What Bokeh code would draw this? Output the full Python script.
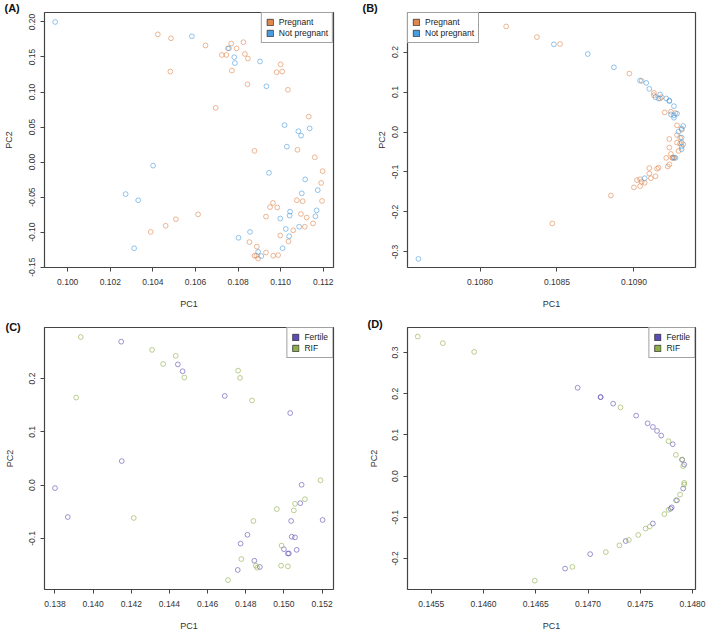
from bokeh.plotting import figure
from bokeh.layouts import gridplot
from bokeh.models import Range1d, FixedTicker, Title, Legend, LegendItem
from bokeh.embed import file_html
from bokeh.resources import INLINE

# ---------------- data ----------------
A_preg_x = [0.10423,0.10485,0.10482,0.10647,0.10724,0.10745,0.10752,0.10768,0.10793,0.10825,0.10832,0.10846,0.10771,0.10844,0.10695,0.10981,0.11000,0.11007,0.11034,0.11132,0.10877,0.11079,0.11160,0.11197,0.11190,0.11194,0.11076,0.11103,0.11095,0.11122,0.11113,0.11152,0.11059,0.11037,0.10998,0.10964,0.10950,0.10984,0.10931,0.10931,0.10965,0.10988,0.10853,0.10888,0.10877,0.10886,0.10894,0.10612,0.10508,0.10460,0.10390]
A_preg_y = [0.1823,0.1767,0.1292,0.1664,0.1529,0.1529,0.1623,0.1692,0.1623,0.1711,0.1543,0.1478,0.1306,0.1110,0.0774,0.1282,0.1394,0.1292,0.1031,0.0649,0.0160,0.0175,0.0068,-0.0130,-0.0298,-0.0555,-0.0545,-0.0559,-0.0741,-0.0792,-0.0923,-0.0876,-0.0974,-0.1132,-0.1048,-0.0583,-0.0643,-0.0648,-0.0778,-0.1291,-0.1337,-0.1328,-0.1142,-0.1207,-0.1337,-0.1337,-0.1379,-0.0746,-0.0816,-0.0909,-0.0997]
A_not_x = [0.09941,0.10583,0.10757,0.10782,0.10785,0.10903,0.10933,0.11018,0.11083,0.11096,0.11136,0.11029,0.10401,0.10272,0.10331,0.10312,0.10945,0.11115,0.11099,0.11174,0.11169,0.11163,0.11044,0.11042,0.10998,0.11024,0.11087,0.11040,0.11009,0.10856,0.10802,0.10894,0.10909]
A_not_y = [0.2000,0.1795,0.1623,0.1497,0.1413,0.1436,0.1082,0.0527,0.0439,0.0378,0.0481,0.0220,-0.0051,-0.0457,-0.0545,-0.1230,-0.0154,-0.0247,-0.0447,-0.0401,-0.0690,-0.0774,-0.0708,-0.0764,-0.0806,-0.0955,-0.0923,-0.1058,-0.1230,-0.0997,-0.1081,-0.1282,-0.1342]

B_preg_x = [0.10797,0.10817,0.10837,0.10852,0.10897,0.10905,0.10913,0.10913,0.10917,0.10918,0.10920,0.10924,0.10927,0.10928,0.10931,0.10928,0.10923,0.10930,0.10928,0.10930,0.10932,0.10929,0.10923,0.10924,0.10921,0.10923,0.10922,0.10910,0.10915,0.10916,0.10910,0.10914,0.10911,0.10902,0.10904,0.10905,0.10907,0.10904,0.10900,0.10885,0.10847,0.10925,0.10926,0.10925]
B_preg_y = [0.2747,0.2639,0.2374,0.2199,0.1461,0.1278,0.0979,0.0921,0.0838,0.0871,0.0489,0.0506,0.0473,0.0166,0.0058,-0.0075,-0.0175,-0.0141,-0.0266,-0.0291,-0.0307,-0.0473,-0.0390,-0.0549,-0.0647,-0.0811,-0.0861,-0.0902,-0.0918,-0.0893,-0.1041,-0.1107,-0.1156,-0.1205,-0.1180,-0.1246,-0.1271,-0.1353,-0.1385,-0.1590,-0.2287,-0.0640,-0.0645,-0.0650]
B_not_x = [0.10848,0.10870,0.10887,0.10904,0.10908,0.10910,0.10914,0.10917,0.10916,0.10921,0.10923,0.10923,0.10926,0.10924,0.10926,0.10928,0.10926,0.10932,0.10931,0.10929,0.10931,0.10931,0.10931,0.10931,0.10760,0.10907,0.10927,0.10926]
B_not_y = [0.2191,0.1950,0.1618,0.1286,0.1228,0.1079,0.0871,0.0938,0.0838,0.0838,0.0772,0.0788,0.0647,0.0440,0.0357,0.0456,0.0415,0.0149,0.0083,0.0008,-0.0141,-0.0266,-0.0365,-0.0432,-0.3173,-0.1156,-0.0647,-0.0640]

C_fer_x = [0.14147,0.14150,0.14444,0.14469,0.14690,0.15033,0.13800,0.13867,0.15093,0.15086,0.15203,0.15038,0.14809,0.14773,0.15041,0.15058,0.15000,0.15067,0.15021,0.15026,0.14845,0.14758,0.14874]
C_fer_y = [0.2691,0.0451,0.2265,0.2136,0.1673,0.1352,-0.0056,-0.0599,0.0006,-0.0339,-0.0654,-0.0673,-0.0932,-0.1098,-0.0969,-0.0981,-0.1203,-0.1215,-0.1283,-0.1283,-0.1419,-0.1592,-0.1536]
C_rif_x = [0.13935,0.13911,0.14309,0.14433,0.14367,0.14478,0.14760,0.14770,0.14833,0.15192,0.14213,0.15110,0.15058,0.15052,0.14963,0.14840,0.14988,0.14777,0.14853,0.14860,0.14985,0.15021,0.14707]
C_rif_y = [0.2778,0.1642,0.2537,0.2426,0.2271,0.2019,0.2148,0.2012,0.1587,0.0090,-0.0617,-0.0265,-0.0352,-0.0475,-0.0450,-0.0673,-0.1135,-0.1388,-0.1512,-0.1549,-0.1512,-0.1524,-0.1783]

D_fer_x = [0.14690,0.14712,0.14712,0.14724,0.14746,0.14757,0.14762,0.14766,0.14770,0.14781,0.14792,0.14790,0.14791,0.14785,0.14780,0.14779,0.14762,0.14736,0.14702,0.14678]
D_fer_y = [0.2145,0.1919,0.1915,0.1758,0.1468,0.1282,0.1193,0.1097,0.0984,0.0774,0.0282,0.0395,-0.0302,-0.0588,-0.0759,-0.0792,-0.1151,-0.1575,-0.1893,-0.2244]
D_rif_x = [0.14537,0.14561,0.14591,0.14731,0.14777,0.14784,0.14790,0.14791,0.14792,0.14792,0.14788,0.14784,0.14777,0.14773,0.14759,0.14755,0.14748,0.14739,0.14730,0.14717,0.14685,0.14649]
D_rif_y = [0.3387,0.3226,0.3016,0.1669,0.0847,0.0516,0.0403,0.0242,-0.0163,-0.0204,-0.0449,-0.0588,-0.0816,-0.0922,-0.1224,-0.1273,-0.1428,-0.1550,-0.1681,-0.1844,-0.2203,-0.2538]

A_xticks = [0.100, 0.102, 0.104, 0.106, 0.108, 0.110, 0.112]
A_xlabels = ["0.100", "0.102", "0.104", "0.106", "0.108", "0.110", "0.112"]
A_yticks = [-0.15, -0.10, -0.05, 0.00, 0.05, 0.10, 0.15, 0.20]
A_ylabels = ["-0.15", "-0.10", "-0.05", "0.00", "0.05", "0.10", "0.15", "0.20"]
B_xticks = [0.1080, 0.1085, 0.1090]
B_xlabels = ["0.1080", "0.1085", "0.1090"]
B_yticks = [-0.3, -0.2, -0.1, 0.0, 0.1, 0.2]
B_ylabels = ["-0.3", "-0.2", "-0.1", "0.0", "0.1", "0.2"]
C_xticks = [0.138, 0.140, 0.142, 0.144, 0.146, 0.148, 0.150, 0.152]
C_xlabels = ["0.138", "0.140", "0.142", "0.144", "0.146", "0.148", "0.150", "0.152"]
C_yticks = [-0.1, 0.0, 0.1, 0.2]
C_ylabels = ["-0.1", "0.0", "0.1", "0.2"]
D_xticks = [0.1455, 0.1460, 0.1465, 0.1470, 0.1475, 0.1480]
D_xlabels = ["0.1455", "0.1460", "0.1465", "0.1470", "0.1475", "0.1480"]
D_yticks = [-0.2, -0.1, 0.0, 0.1, 0.2, 0.3]
D_ylabels = ["-0.2", "-0.1", "0.0", "0.1", "0.2", "0.3"]

preg_names = ["Pregnant", "Not pregnant"]
fert_names = ["Fertile", "RIF"]
preg_colors = ["#E0874E", "#4B9CDF"]
fert_colors = ["#5B4EB3", "#8DAE4A"]

FONT = "Liberation Sans"
NAN = float("nan")


def panel(tag, xr, yr, xt, xl, yt, yl, series, names, colors, legend_loc,
          w, h, bl, br, bt, bb, ylab_standoff, tag_offset, tag_standoff):
    p = figure(width=w, height=h, output_backend="svg", toolbar_location=None,
               x_range=Range1d(*xr), y_range=Range1d(*yr))
    p.min_border_left = bl
    p.min_border_right = br
    p.min_border_top = bt
    p.min_border_bottom = bb
    p.grid.visible = False
    p.outline_line_color = "#444444"
    p.outline_line_width = 1.2
    p.background_fill_color = "white"
    p.border_fill_color = "white"

    p.add_layout(Title(text=tag, align="left", offset=tag_offset,
                       standoff=tag_standoff,
                       text_font=FONT, text_font_size="11px",
                       text_font_style="bold", text_color="#111111"), "above")

    for ax, ticks, labels in ((p.xaxis[0], xt, xl), (p.yaxis[0], yt, yl)):
        ax.ticker = FixedTicker(ticks=ticks)
        ax.major_label_overrides = {t: s for t, s in zip(ticks, labels)}
        ax.axis_line_color = None
        ax.major_tick_line_color = "#444444"
        ax.major_tick_in = 0
        ax.major_tick_out = 4
        ax.minor_tick_line_color = None
        ax.major_label_text_font = FONT
        ax.major_label_text_font_size = "8.5px"
        ax.major_label_text_color = "#333333"
        ax.axis_label_text_font = FONT
        ax.axis_label_text_font_size = "9px"
        ax.axis_label_text_font_style = "normal"
        ax.axis_label_text_color = "#333333"
    p.xaxis.axis_label = "PC1"
    p.xaxis.major_label_standoff = 7
    p.xaxis.axis_label_standoff = 11
    p.yaxis.axis_label = "PC2"
    p.yaxis.major_label_orientation = "vertical"
    p.yaxis.major_label_standoff = 5
    p.yaxis.axis_label_standoff = ylab_standoff

    for (sx, sy), c in zip(series, colors):
        p.scatter(sx, sy, marker="circle", size=4.8, fill_color=None,
                  line_color=c, line_alpha=0.6, line_width=1)

    items = []
    for n, c in zip(names, colors):
        r = p.quad(left=[NAN], right=[NAN], top=[NAN], bottom=[NAN],
                   fill_color=c, line_color="#333333", line_width=0.8)
        items.append(LegendItem(label=n, renderers=[r]))
    leg = Legend(items=items, location=legend_loc, margin=0, padding=4,
                 spacing=1, glyph_width=8, glyph_height=8, label_height=10,
                 label_standoff=5, label_text_font=FONT,
                 label_text_font_size="8.5px", label_text_color="#222222",
                 border_line_color="#444444", border_line_width=1.2,
                 background_fill_alpha=1.0)
    p.add_layout(leg, "center")
    return p


pA = panel("(A)", (0.09891, 0.11248), (-0.1505, 0.2135), A_xticks, A_xlabels,
           A_yticks, A_ylabels,
           [(A_preg_x, A_preg_y), (A_not_x, A_not_y)], preg_names, preg_colors,
           "top_right", 355, 316, 42, 22, 11, 46, 13, -40, -2)
pB = panel("(B)", (0.107529, 0.10940), (-0.3388, 0.2988), B_xticks, B_xlabels,
           B_yticks, B_ylabels,
           [(B_preg_x, B_preg_y), (B_not_x, B_not_y)], preg_names, preg_colors,
           "top_left", 354, 316, 52, 14, 11, 49, 3, -45, -2)
pC = panel("(C)", (0.13745, 0.1526), (-0.1959, 0.2957), C_xticks, C_xlabels,
           C_yticks, C_ylabels,
           [(C_fer_x, C_fer_y), (C_rif_x, C_rif_y)], fert_names, fert_colors,
           "top_right", 355, 317, 41, 18, 11, 41, 12, -39, -10)
pD = panel("(D)", (0.145272, 0.148028), (-0.2752, 0.3607), D_xticks, D_xlabels,
           D_yticks, D_ylabels,
           [(D_fer_x, D_fer_y), (D_rif_x, D_rif_y)], fert_names, fert_colors,
           "top_right", 354, 317, 52, 12, 11, 44, 11, -40, -5)

grid = gridplot([[pA, pB], [pC, pD]], toolbar_location=None)
open("out.html", "w").write(file_html(grid, INLINE))
